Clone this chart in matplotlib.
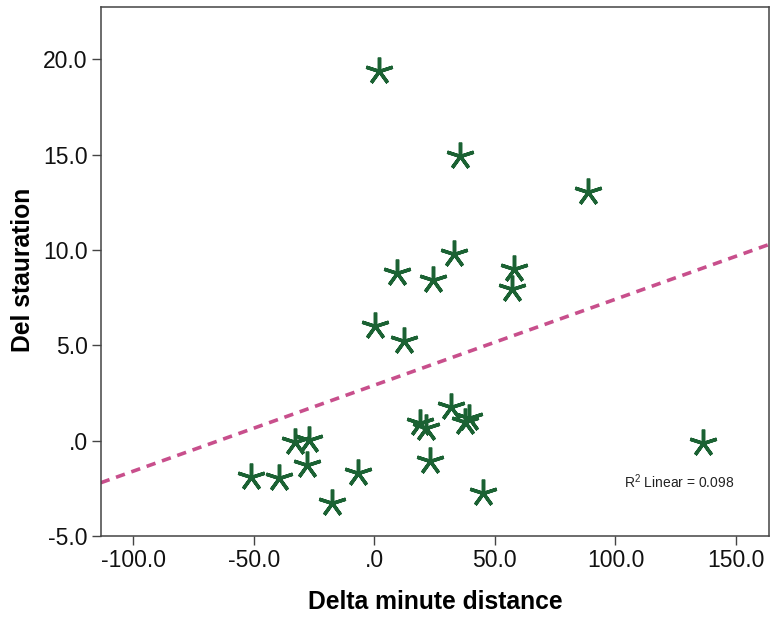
import numpy as np
import matplotlib.pyplot as plt
from matplotlib.ticker import FuncFormatter

plt.rcParams['font.family'] = ['Liberation Sans', 'DejaVu Sans']

delta_minute = [-51.3, -39.4, -27.8, -32.9, -27.1, -6.6, -17.7, 23.1, 45.2,
                19.0, 21.4, 31.7, 39.4, 37.6, 1.9, 35.5, 88.8, 33.2, 9.5,
                24.5, 57.9, 57.2, 0.3, 12.3, 136.5]
del_saturation = [-1.90, -1.97, -1.27, -0.05, 0.04, -1.68, -3.28, -1.05, -2.76,
                  0.91, 0.68, 1.75, 1.21, 1.00, 19.39, 14.93, 13.06, 9.77, 8.78,
                  8.43, 9.00, 7.94, 6.01, 5.23, -0.14]
r2_linear = 0.098

x = np.array(delta_minute)
y = np.array(del_saturation)
slope, intercept = np.polyfit(x, y, 1)

W, H = 774, 621
fig = plt.figure(figsize=(W / 100, H / 100), dpi=100)
ax = fig.add_axes([0.1301, 0.1369, 0.8638, 0.8513])

xmin, xmax = -113.5, 163.8
ax.set_xlim(xmin, xmax)
ax.set_ylim(-5.0, 22.73)

# fit line across the whole x range
xs = np.array([xmin, xmax])
ax.plot(xs, intercept + slope * xs, color='#c84f8c', lw=2.6,
        dashes=(2.6, 1.9), zorder=2)

ax.plot(x, y, linestyle='none', marker=(5, 2, 0), markersize=20,
        markeredgewidth=2.5, color='#1b6233', zorder=3)

fig.text(679 / W, 1 - 482 / H, '$\\mathregular{R^2}$ Linear = %.3f' % r2_linear,
         fontsize=10, ha='center', va='center', color='#222222')


def fmt(v, pos):
    s = '%.1f' % v
    if s in ('0.0', '-0.0'):
        return '.0'
    return s


ax.set_xticks([-100, -50, 0, 50, 100, 150])
ax.set_yticks([-5, 0, 5, 10, 15, 20])
ax.xaxis.set_major_formatter(FuncFormatter(fmt))
ax.yaxis.set_major_formatter(FuncFormatter(fmt))
ax.tick_params(direction='out', length=6.5, width=1, color='#444444',
               labelsize=16.5, pad=3, labelcolor='#111111')

for sp in ax.spines.values():
    sp.set_color('#444444')
    sp.set_linewidth(1.1)

ax.set_xlabel('Delta minute distance', fontsize=17.7, fontweight='bold', va='center')
ax.set_ylabel('Del stauration', fontsize=17.7, fontweight='bold', va='center')
ax.xaxis.set_label_coords((435 - 100.7) / 668.6, -(602 - 536) / 528.7)
ax.yaxis.set_label_coords(-(100.7 - 23) / 668.6, (536 - 270) / 528.7)

fig.savefig('out.png', dpi=100)
